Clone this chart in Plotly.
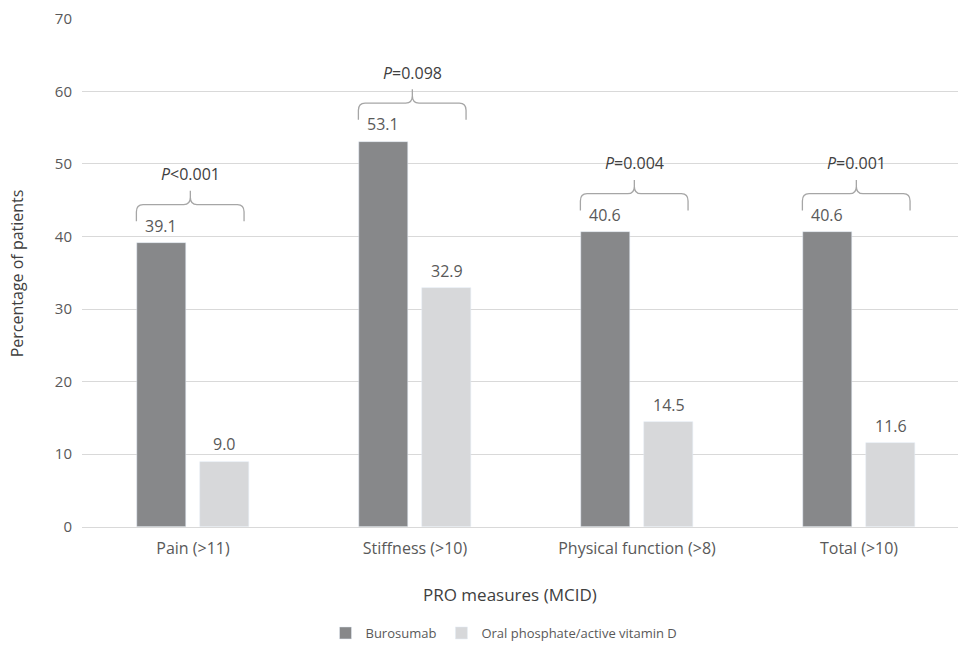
import plotly.graph_objects as go

categories = ["Pain (>11)", "Stiffness (>10)", "Physical function (>8)", "Total (>10)"]
burosumab = [39.1, 53.1, 40.6, 40.6]
oral = [9.0, 32.9, 14.5, 11.6]
p_labels = ["<i>P</i><0.001", "<i>P</i>=0.098", "<i>P</i>=0.004", "<i>P</i>=0.001"]
y_ticks = [0, 10, 20, 30, 40, 50, 60, 70]

DARK = "#87888a"
LIGHT = "#d7d8da"
TXT = "#595959"
DTXT = "#404040"
FONT = "Open Sans"
W, H = 958, 648
PL, PT, PB = 82, 19, 530  # plot area pixel bounds

BW, OFF_D, OFF_L = 0.22, -0.252, 0.032

xs = list(range(len(categories)))
fig = go.Figure()
fig.add_trace(go.Bar(x=xs, y=burosumab, name="Burosumab", marker_color=DARK,
                     width=BW, offset=OFF_D))
fig.add_trace(go.Bar(x=xs, y=oral, name="Oral phosphate/active vitamin D", marker_color=LIGHT,
                     width=BW, offset=OFF_L))

# value labels
for i in xs:
    for v, off in ((burosumab[i], OFF_D), (oral[i], OFF_L)):
        fig.add_annotation(x=i + off + BW / 2, y=v, xref="x", yref="y", text=f"{v:.1f}",
                           showarrow=False, yanchor="middle", yshift=17,
                           font=dict(size=16, color=TXT, family=FONT))

# braces with P values
for i, (b, lab) in enumerate(zip(burosumab, p_labels)):
    x0, x1, xm = i - 0.255, i + 0.23, i - 0.012
    yb, yh, yp = b + 3.0, b + 5.3, b + 7.2
    c, dx = 1.0, 0.03
    path = (f"M {x0},{yb} L {x0},{yh-c} Q {x0},{yh} {x0+dx},{yh} "
            f"L {xm-dx},{yh} Q {xm},{yh} {xm},{yh+c} L {xm},{yp} "
            f"L {xm},{yh+c} Q {xm},{yh} {xm+dx},{yh} "
            f"L {x1-dx},{yh} Q {x1},{yh} {x1},{yh-c} L {x1},{yb}")
    fig.add_shape(type="path", path=path, xref="x", yref="y",
                  line=dict(color="#a6a6a6", width=1.3))
    fig.add_annotation(x=xm, y=b + 9.5, xref="x", yref="y", text=lab,
                       showarrow=False, yanchor="middle",
                       font=dict(size=16, color=DTXT, family=FONT))

# axis titles
fig.add_annotation(x=510 / W, y=(H - 598) / H, xref="paper", yref="paper",
                   text="PRO measures (MCID)", showarrow=False, yanchor="middle",
                   font=dict(size=17, color=DTXT, family=FONT))
fig.add_annotation(x=17 / W, y=(H - 275) / H, xref="paper", yref="paper",
                   text="Percentage of patients", showarrow=False, textangle=-90,
                   xanchor="center", yanchor="middle",
                   font=dict(size=16, color=DTXT, family=FONT))

fig.update_layout(
    width=W, height=H,
    margin=dict(l=0, r=0, t=0, b=0),
    plot_bgcolor="white", paper_bgcolor="white",
    font=dict(family=FONT, color=TXT),
    showlegend=True,
    legend=dict(orientation="h", x=504 / W, xanchor="center", y=(H - 637) / H, yanchor="middle",
                font=dict(size=13, color=TXT, family=FONT), itemwidth=30,
                tracegroupgap=0),
    bargap=0,
)
fig.update_xaxes(
    domain=[PL / W, 1],
    range=[-0.5, (W - PL) / 222 - 0.5],
    tickmode="array", tickvals=xs, ticktext=categories,
    tickfont=dict(size=16, color=TXT, family=FONT),
    showgrid=False, zeroline=False, showline=True, linecolor="#d9d9d9", linewidth=1,
    ticks="", ticklabelstandoff=7, automargin=False,
)
fig.update_yaxes(
    domain=[(H - PB) / H, (H - PT) / H],
    range=[0, 70], tickmode="array", tickvals=y_ticks,
    tickfont=dict(size=15, color=TXT, family=FONT),
    showgrid=True, gridcolor="#d9d9d9", gridwidth=1, zeroline=False,
    ticks="", ticklabelstandoff=9, automargin=False,
)
fig.write_html(
    "out.html",
    config={"displayModeBar": False},
    post_script=("document.documentElement.style.margin='0';document.documentElement.style.overflow='hidden';"
                 "document.body.style.margin='0';document.body.style.overflow='hidden';"),
)
